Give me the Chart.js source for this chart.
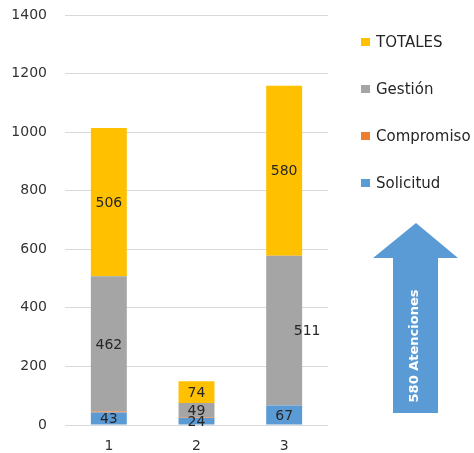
<!DOCTYPE html>
<html>
<head>
<meta charset="utf-8">
<script src="https://cdn.jsdelivr.net/npm/chart.js@4.4.1/dist/chart.umd.min.js"></script>
<style>
  html, body { margin: 0; padding: 0; background: #fff; }
  #wrap { width: 474px; height: 453px; position: relative; }
  #legend { position: absolute; left: 361px; top: 33px; font: 15px 'DejaVu Sans', sans-serif; color: #262626; }
  #legend .item { height: 18px; line-height: 18px; margin-bottom: 29px; white-space: nowrap; }
  #legend .box { display: inline-block; width: 9px; height: 8px; margin-right: 6px; vertical-align: 1px; }
</style>
</head>
<body>
<div id="wrap"><canvas id="c"></canvas><div id="legend"></div></div>
<script>
/* categories and series */
var categories = ['1', '2', '3'];
var solicitud  = [43, 24, 67];
var compromiso = [3, 2, 0];
var gestion    = [462, 49, 511];
var totales    = [506, 74, 580];
var yTicks     = [0, 200, 400, 600, 800, 1000, 1200, 1400];
var arrowText  = '580 Atenciones';

var FONT = 'DejaVu Sans';

/* value labels inside the segments (Compromiso has none) */
var _valueLabels = {
  id: 'valueLabels',
  afterDatasetsDraw: function(chart) {
    var ctx = chart.ctx;
    ctx.save();
    ctx.font = '14px ' + FONT;
    ctx.fillStyle = '#262626';
    ctx.textAlign = 'center';
    ctx.textBaseline = 'middle';
    chart.data.datasets.forEach(function(ds, di) {
      if (ds.label === 'Compromiso') return;
      var meta = chart.getDatasetMeta(di);
      meta.data.forEach(function(bar, i) {
        var x = bar.x, y = (bar.y + bar.base) / 2;
        // the 511 label sits beside the third bar
        if (ds.label === 'Gestión' && i === 2) x = bar.x + 23;
        ctx.fillText(String(ds.data[i]), x, y + 1);
      });
    });
    ctx.restore();
  }
};

/* the big blue arrow on the right */
var _arrow = {
  id: 'arrow',
  afterDraw: function(chart) {
    var ctx = chart.ctx;
    var cx = 416, tip = 223, headY = 258, headL = 373, headR = 458;
    var shaftL = 393, shaftR = 438, bottom = 413;
    ctx.save();
    ctx.beginPath();
    ctx.moveTo(cx, tip);
    ctx.lineTo(headR, headY);
    ctx.lineTo(shaftR, headY);
    ctx.lineTo(shaftR, bottom);
    ctx.lineTo(shaftL, bottom);
    ctx.lineTo(shaftL, headY);
    ctx.lineTo(headL, headY);
    ctx.closePath();
    ctx.fillStyle = '#5B9BD5';
    ctx.fill();
    ctx.translate(415, 346);
    ctx.rotate(-Math.PI / 2);
    ctx.font = 'bold 13px ' + FONT;
    ctx.fillStyle = '#ffffff';
    ctx.textAlign = 'center';
    ctx.textBaseline = 'middle';
    ctx.fillText(arrowText, 0, 0);
    ctx.restore();
  }
};

function _ds(label, data, color) {
  return {
    label: label,
    data: data,
    backgroundColor: color,
    borderWidth: 0,
    categoryPercentage: 1,
    barPercentage: 0.41
  };
}

var chart = new Chart(document.getElementById('c'), {
  type: 'bar',
  data: {
    labels: categories,
    datasets: [
      _ds('Solicitud', solicitud, '#5B9BD5'),
      _ds('Compromiso', compromiso, '#ED7D31'),
      _ds('Gestión', gestion, '#A5A5A5'),
      _ds('TOTALES', totales, '#FFC000')
    ]
  },
  options: {
    responsive: true, maintainAspectRatio: false, animation: false,
    layout: {padding: {top: 0, left: 10, right: 146, bottom: 0}},
    plugins: {
      tooltip: {enabled: false},
      legend: {display: false}
    },
    scales: {
      x: {
        stacked: true,
        afterFit: function(axis) { axis.height = 28; },
        grid: {display: false, drawTicks: false},
        border: {display: false},
        ticks: {color: '#333333', padding: 13, font: {family: FONT, size: 14}}
      },
      y: {
        stacked: true,
        min: 0, max: 1400,
        afterBuildTicks: function(axis) { axis.ticks = yTicks.map(function(v) { return {value: v}; }); },
        afterFit: function(axis) { axis.width = 55; axis.paddingTop = 15; },
        grid: {color: '#D9D9D9', drawTicks: false},
        border: {display: false},
        ticks: {
          color: '#333333', padding: 18, font: {family: FONT, size: 14},
          callback: function(v) { return String(v); }
        }
      }
    }
  },
  plugins: [_valueLabels, _arrow]
});

/* legend, reversed like the original */
var leg = document.getElementById('legend');
chart.data.datasets.slice().reverse().forEach(function(ds) {
  var it = document.createElement('div');
  it.className = 'item';
  var b = document.createElement('span');
  b.className = 'box';
  b.style.background = ds.backgroundColor;
  it.appendChild(b);
  it.appendChild(document.createTextNode(ds.label));
  leg.appendChild(it);
});
</script>
</body>
</html>
